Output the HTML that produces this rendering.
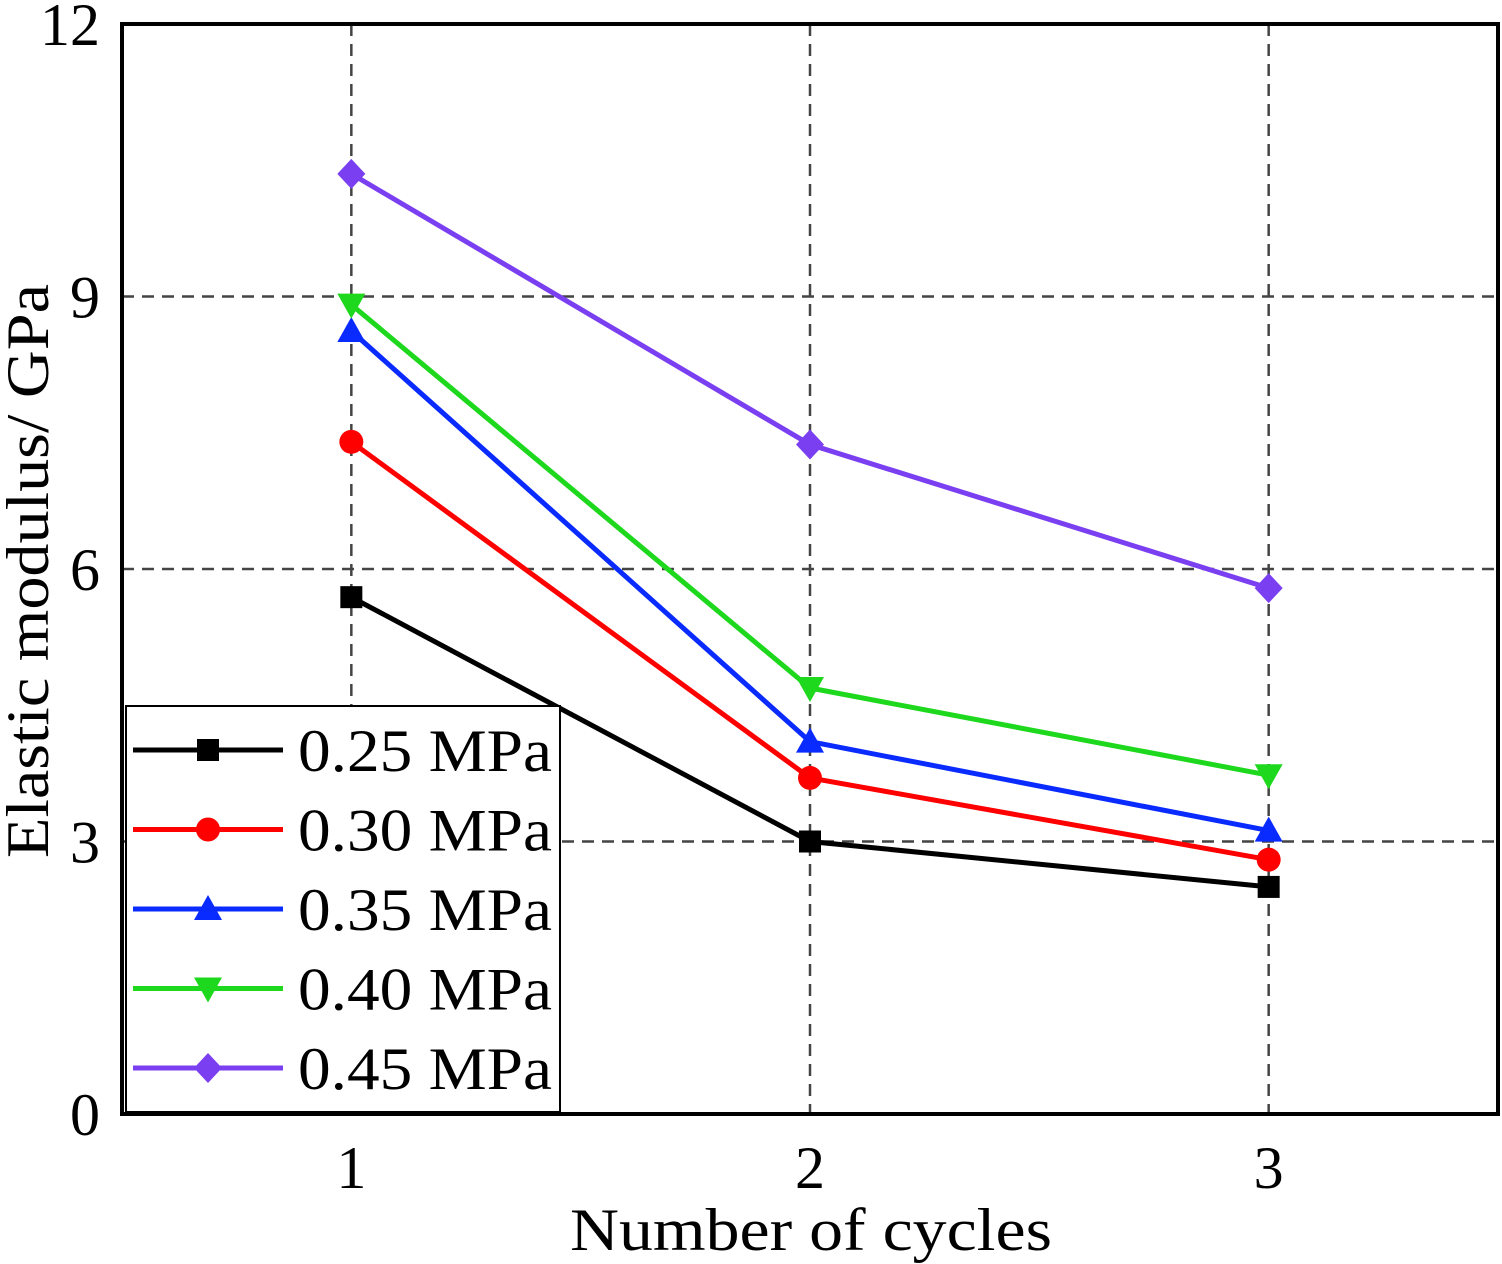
<!DOCTYPE html>
<html><head><meta charset="utf-8"><style>
html,body{margin:0;padding:0;background:#fff;}
svg{display:block;font-family:"Liberation Serif",serif;}
</style></head><body>
<svg id="chart" width="1502" height="1264" viewBox="0 0 1502 1264" xmlns="http://www.w3.org/2000/svg">
<g id="grid"></g>
<g id="series"></g>
<rect x="122" y="24" width="1376" height="1090" fill="none" stroke="#000" stroke-width="4"/>
<g id="ticks"></g>
<g id="legend"></g>
<text x="570" y="1250" font-size="60" textLength="482" lengthAdjust="spacingAndGlyphs">Number of cycles</text>
<text transform="translate(48,858) rotate(-90)" font-size="60" textLength="574" lengthAdjust="spacingAndGlyphs">Elastic modulus/ GPa</text>
</svg>
<script>
const categories=[1,2,3];
const seriesNames=["0.25 MPa","0.30 MPa","0.35 MPa","0.40 MPa","0.45 MPa"];
const s025=[5.69,3.0,2.5];
const s030=[7.4,3.7,2.8];
const s035=[8.62,4.1,3.12];
const s040=[8.91,4.69,3.73];
const s045=[10.35,7.37,5.79];
const yTicks=[0,3,6,9,12];
const xTicks=[1,2,3];
const NS="http://www.w3.org/2000/svg";
const L=122,R=1498,T=24,B=1114;
const xs=v=>L+(v-0.5)/3*(R-L);
const ys=v=>B-v/12*(B-T);
function mk(tag,attrs,parent){const e=document.createElementNS(NS,tag);for(const k in attrs)e.setAttribute(k,attrs[k]);parent.appendChild(e);return e;}
const grid=document.getElementById('grid'),ticks=document.getElementById('ticks'),sg=document.getElementById('series'),lg=document.getElementById('legend');
yTicks.forEach(v=>{
  if(v>0&&v<12){const g=mk('line',{x1:L,x2:R,y1:ys(v),y2:ys(v),stroke:'#444','stroke-width':2.5,'stroke-dasharray':'12,8'},grid);
  
  }
  const t=mk('text',{x:100,y:ys(v)+21,'font-size':60,'text-anchor':'end'},ticks);t.textContent=v;
  
  
});
xTicks.forEach(v=>{
  const g=mk('line',{x1:xs(v),x2:xs(v),y1:T,y2:B,stroke:'#444','stroke-width':2.5,'stroke-dasharray':'12,8'},grid);
  
  
  const t=mk('text',{x:xs(v),y:1188,'font-size':60,'text-anchor':'middle'},ticks);t.textContent=v;
  
  
});
const colors=['#000','#ff0000','#0a2bff','#1ed81e','#7b3ff2'];
const shapes=['square','circle','up','down','diamond'];
function marker(shape,x,y,c,p){
  let e;
  if(shape==='square')e=mk('rect',{x:x-11,y:y-11,width:22,height:22,fill:c},p);
  else if(shape==='circle')e=mk('circle',{cx:x,cy:y,r:12,fill:c},p);
  else if(shape==='up')e=mk('polygon',{points:`${x},${y-14} ${x-14},${y+11} ${x+14},${y+11}`,fill:c},p);
  else if(shape==='down')e=mk('polygon',{points:`${x},${y+14} ${x-14},${y-11} ${x+14},${y-11}`,fill:c},p);
  else e=mk('polygon',{points:`${x},${y-15} ${x+14},${y} ${x},${y+15} ${x-14},${y}`,fill:c},p);
  return e;
}
const all=[s025,s030,s035,s040,s045];
all.forEach((d,i)=>{
  const pts=d.map((v,j)=>xs(categories[j])+','+ys(v)).join(' ');
  const pl=mk('polyline',{points:pts,fill:'none',stroke:colors[i],'stroke-width':5},sg);
  
  
  d.forEach((v,j)=>{const m=marker(shapes[i],xs(categories[j]),ys(v),colors[i],sg);
    
    });
});
const box=mk('rect',{x:126,y:706,width:434,height:406,fill:'#fff',stroke:'#000','stroke-width':2},lg);


seriesNames.forEach((n,i)=>{
  const y=750+i*79.5;
  const ln=mk('line',{x1:133,x2:283,y1:y,y2:y,stroke:colors[i],'stroke-width':5},lg);
  
  
  const m=marker(shapes[i],208,y,colors[i],lg);
  
  
  const t=mk('text',{x:298,y:y+21,'font-size':60,textLength:254,lengthAdjust:'spacingAndGlyphs'},lg);t.textContent=n;
  
  
});
</script>
</body></html>
